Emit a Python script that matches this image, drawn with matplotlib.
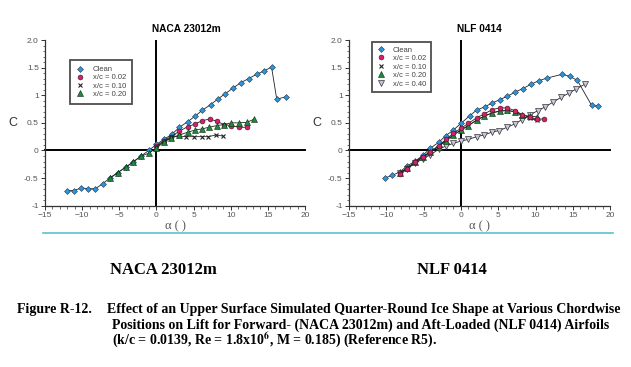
import matplotlib.pyplot as plt
from matplotlib.ticker import MultipleLocator, FixedLocator
from matplotlib.lines import Line2D

plt.rcParams['font.family'] = ['Liberation Sans', 'DejaVu Sans']
plt.rcParams['mathtext.fontset'] = 'stix'

# ---- NACA 23012m data ----
naca_clean_a = [-12.1, -11.1, -10.1, -9.2, -8.25, -7.2, -6.2, -5.2, -4.1, -3.1, -2.06, -1.03, 0.0, 1.0,
                2.06, 3.1, 4.2, 5.2, 6.2, 7.3, 8.25, 9.3, 10.3, 11.4, 12.4, 13.5, 14.5, 15.5, 16.2, 17.4]
naca_clean_c = [-0.725, -0.725, -0.68, -0.69, -0.695, -0.60, -0.49, -0.40, -0.30, -0.21, -0.10, 0.0, 0.11, 0.20,
                0.29, 0.42, 0.52, 0.62, 0.73, 0.83, 0.93, 1.03, 1.13, 1.23, 1.30, 1.38, 1.44, 1.51, 0.93, 0.97]

naca_02_a = [0.0, 1.0, 2.0, 3.1, 4.2, 5.2, 6.2, 7.2, 8.1, 9.1, 10.1, 11.1, 12.2]
naca_02_c = [0.08, 0.18, 0.25, 0.35, 0.43, 0.48, 0.54, 0.57, 0.53, 0.47, 0.45, 0.42, 0.42]

naca_10_a = [0.0, 1.0, 2.0, 3.1, 4.0, 5.1, 6.1, 7.0, 8.0, 9.0]
naca_10_c = [0.07, 0.16, 0.24, 0.26, 0.25, 0.25, 0.25, 0.25, 0.28, 0.26]

naca_20_a = [-6.2, -5.2, -4.1, -3.1, -2.06, -1.0, 0.0, 1.0, 2.0, 3.1, 4.2, 5.2, 6.1, 7.1, 8.1, 9.1,
             10.1, 11.1, 12.2, 13.2]
naca_20_c = [-0.50, -0.40, -0.30, -0.20, -0.10, -0.05, 0.05, 0.15, 0.23, 0.28, 0.33, 0.37, 0.39, 0.42,
             0.45, 0.47, 0.50, 0.50, 0.51, 0.57]

# ---- NLF 0414 data ----
nlf_clean_a = [-10.2, -9.2, -8.2, -7.2, -6.1, -5.1, -4.1, -3.0, -2.0, -1.0, 0.0, 1.2, 2.1, 3.2, 4.2, 5.2,
               6.2, 7.3, 8.3, 9.4, 10.4, 11.5, 13.6, 14.6, 15.6, 17.5, 18.4]
nlf_clean_c = [-0.50, -0.45, -0.39, -0.28, -0.19, -0.09, 0.04, 0.145, 0.27, 0.37, 0.49, 0.63, 0.73, 0.79,
               0.86, 0.92, 0.98, 1.06, 1.12, 1.20, 1.26, 1.31, 1.38, 1.34, 1.27, 0.82, 0.80]

nlf_02_a = [-8.2, -7.2, -6.1, -5.1, -4.1, -3.0, -2.0, -1.0, 0.0, 1.0, 2.1, 3.1, 4.2, 5.2, 6.2, 7.3,
            8.2, 9.2, 10.2, 11.2]
nlf_02_c = [-0.42, -0.33, -0.20, -0.11, -0.02, 0.085, 0.20, 0.31, 0.40, 0.49, 0.59, 0.66, 0.74, 0.77,
            0.77, 0.72, 0.65, 0.60, 0.57, 0.57]

nlf_10_a = [-8.2, -7.2, -6.1, -5.1, -4.1, -3.0, -2.0, -1.0, 0.0, 1.0, 2.1, 3.1, 4.2, 5.2, 6.2, 7.3,
            8.2, 9.2, 10.2]
nlf_10_c = [-0.41, -0.32, -0.21, -0.12, -0.03, 0.07, 0.18, 0.28, 0.37, 0.45, 0.55, 0.62, 0.68, 0.71,
            0.72, 0.70, 0.62, 0.58, 0.55]

nlf_20_a = [-8.2, -7.2, -6.1, -5.1, -4.1, -3.0, -2.0, -1.0, 0.0, 1.0, 2.1, 3.1, 4.2, 5.2, 6.2, 7.3,
            8.2, 9.2, 10.2]
nlf_20_c = [-0.41, -0.32, -0.21, -0.12, -0.03, 0.07, 0.18, 0.28, 0.37, 0.45, 0.55, 0.62, 0.68, 0.72,
            0.73, 0.70, 0.64, 0.62, 0.61]

nlf_40_a = [-8.2, -7.2, -6.1, -5.1, -4.1, -3.0, -2.0, -1.0, 0.0, 1.0, 2.1, 3.1, 4.1, 5.1, 6.2, 7.2,
            8.2, 9.3, 10.3, 11.3, 12.4, 13.4, 14.5, 15.4, 16.6]
nlf_40_c = [-0.40, -0.33, -0.23, -0.15, -0.08, 0.02, 0.08, 0.13, 0.17, 0.20, 0.25, 0.28, 0.33, 0.36,
            0.42, 0.48, 0.56, 0.65, 0.72, 0.79, 0.88, 0.96, 1.04, 1.11, 1.20]

yticks = [-1, -0.5, 0, 0.5, 1, 1.5, 2.0]
ylabels = ['-1', '-0.5', '0', '0.5', '1', '1.5', '2.0']
xticks = [-15, -10, -5, 0, 5, 10, 15, 20]

blue = '#2f95d8'
red = '#d0226a'
green = '#1f8a3c'
grey = '#c8c8d2'

st_clean = dict(marker='D', ms=3.0, mfc=blue, mec='#1a3550', mew=0.4, label='Clean')
st_02 = dict(marker='o', ms=3.5, mfc=red, mec='#401020', mew=0.4, label='x/c = 0.02')
st_10 = dict(marker='x', ms=3.2, mfc='none', mec='#222222', mew=0.8, label='x/c = 0.10')
st_20 = dict(marker='^', ms=3.7, mfc=green, mec='#0a2a10', mew=0.4, label='x/c = 0.20')
st_40 = dict(marker='v', ms=4.0, mfc=grey, mec='#333340', mew=0.5, label='x/c = 0.40')

fig = plt.figure(figsize=(6.31, 3.67), dpi=100)
axL = fig.add_axes([0.0713, 0.4395, 0.412, 0.4515])
axR = fig.add_axes([0.553, 0.4395, 0.414, 0.4515])


def style_axes(ax, title, tx):
    ax.set_xlim(-15, 20)
    ax.set_ylim(-1, 2)
    for s in ['top', 'right']:
        ax.spines[s].set_visible(False)
    for s in ['left', 'bottom']:
        ax.spines[s].set_linewidth(0.9)
        ax.spines[s].set_color('#333333')
    ax.yaxis.set_major_locator(FixedLocator(yticks))
    ax.set_yticklabels(ylabels)
    ax.xaxis.set_major_locator(FixedLocator(xticks))
    ax.xaxis.set_minor_locator(MultipleLocator(1))
    ax.yaxis.set_minor_locator(MultipleLocator(0.1))
    ax.tick_params(which='major', length=3, width=0.7, labelsize=6, colors='#333333', labelcolor='#555555', pad=1.5)
    ax.tick_params(which='minor', length=1.8, width=0.5, colors='#333333')
    ax.axhline(0, color='black', lw=1.4, zorder=1, clip_on=False)
    ax.axvline(0, color='black', lw=1.4, zorder=1)
    ax.set_title(title, fontsize=7.3, fontweight='bold', pad=6, x=tx)
    ax.set_xlabel('\u03b1 ( )', fontsize=9, family='Liberation Serif', color='#555555', labelpad=1)
    ax.set_ylabel('C', fontsize=9, rotation=0, color='#333333', labelpad=8, va='center')


def draw(ax, a, c, st):
    ax.plot(a, c, color='#222222', lw=0.6, zorder=3, **st)


style_axes(axL, 'NACA 23012m', 0.545)
draw(axL, naca_clean_a, naca_clean_c, st_clean)
draw(axL, naca_02_a, naca_02_c, st_02)
draw(axL, naca_10_a, naca_10_c, st_10)
draw(axL, naca_20_a, naca_20_c, st_20)

style_axes(axR, 'NLF 0414', 0.5)
draw(axR, nlf_clean_a, nlf_clean_c, st_clean)
draw(axR, nlf_40_a, nlf_40_c, st_40)
draw(axR, nlf_10_a, nlf_10_c, st_10)
draw(axR, nlf_20_a, nlf_20_c, st_20)
draw(axR, nlf_02_a, nlf_02_c, st_02)


def legend_handles(styles):
    return [Line2D([], [], ls='none', **s) for s in styles]


legL = axL.legend(handles=legend_handles([st_clean, st_02, st_10, st_20]), loc='upper left',
                  bbox_to_anchor=(0.095, 0.88), fontsize=5.5, frameon=True, fancybox=False,
                  handlelength=1.2, handletextpad=1.0, borderpad=0.8, labelspacing=0.1, borderaxespad=0)
legL.get_frame().set_edgecolor('#222222')
legL.get_frame().set_linewidth(1.3)
for t in legL.get_texts():
    t.set_color('#444444')

legR = axR.legend(handles=legend_handles([st_clean, st_02, st_10, st_20, st_40]), loc='upper left',
                  bbox_to_anchor=(0.087, 0.99), fontsize=5.5, frameon=True, fancybox=False,
                  handlelength=1.2, handletextpad=1.0, borderpad=0.6, labelspacing=0.15, borderaxespad=0)
legR.get_frame().set_edgecolor('#222222')
legR.get_frame().set_linewidth(1.3)
for t in legR.get_texts():
    t.set_color('#444444')

# teal rule under the charts
fig.add_artist(Line2D([43 / 631, 613 / 631], [1 - 233 / 367] * 2, color='#5cc0c8', lw=1.2))

serif = 'Liberation Serif'
fig.text(163 / 631, 1 - 270 / 367, 'NACA 23012m', family=serif, fontweight='bold', fontsize=12,
         ha='center', va='center')
fig.text(452 / 631, 1 - 270 / 367, 'NLF 0414', family=serif, fontweight='bold', fontsize=12,
         ha='center', va='center')
cap = dict(family=serif, fontweight='bold', fontsize=10, ha='left', va='center')
fig.text(17 / 631, 1 - 310 / 367, 'Figure R-12.', **cap)
fig.text(107 / 631, 1 - 310 / 367,
         'Effect of an Upper Surface Simulated Quarter-Round Ice Shape at Various Chordwise', **cap)
fig.text(112 / 631, 1 - 325 / 367,
         'Positions on Lift for Forward- (NACA 23012m) and Aft-Loaded (NLF 0414) Airfoils', **cap)
fig.text(112 / 631, 1 - 340 / 367,
         '(k/c = 0.0139, Re = 1.8x10$^{\\mathbf{6}}$, M = 0.185) (Reference R5).', **cap)

fig.savefig('out.png', dpi=100)
